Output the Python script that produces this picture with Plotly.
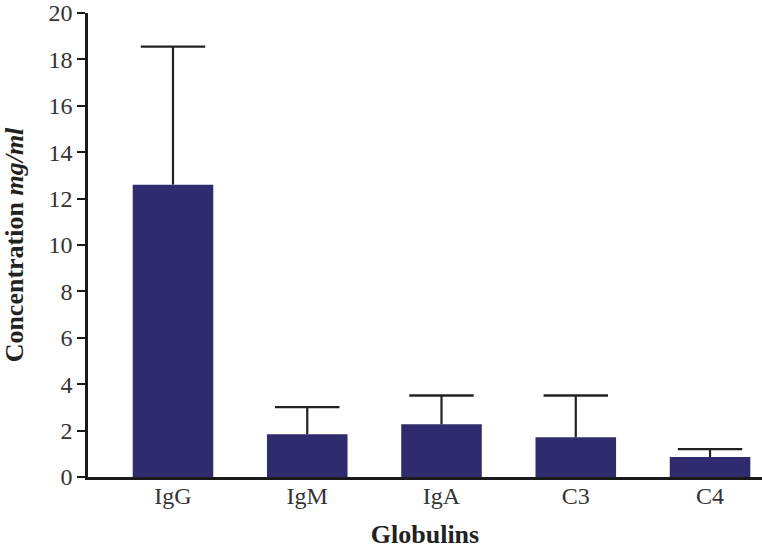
import plotly.graph_objects as go

categories = ["IgG", "IgM", "IgA", "C3", "C4"]
means = [12.6, 1.84, 2.27, 1.71, 0.86]
errors = [5.95, 1.17, 1.24, 1.8, 0.34]
y_ticks = [0, 2, 4, 6, 8, 10, 12, 14, 16, 18, 20]

tops = [m + e for m, e in zip(means, errors)]
stem_x, stem_y = [], []
for c, m, t in zip(categories, means, tops):
    stem_x += [c, c, None]
    stem_y += [m, t, None]

fig = go.Figure()
fig.add_trace(go.Bar(
    x=categories,
    y=means,
    width=0.6,
    marker=dict(color="#302a6e", line=dict(width=0)),
))
# error bar stems (upper only)
fig.add_trace(go.Scatter(
    x=stem_x, y=stem_y, mode="lines",
    line=dict(color="#222222", width=2.2),
    hoverinfo="skip",
))
# error bar caps
fig.add_trace(go.Scatter(
    x=categories, y=tops, mode="markers",
    marker=dict(symbol="line-ew", size=46, line=dict(color="#222222", width=2.4)),
    hoverinfo="skip",
))

fig.update_layout(
    width=762, height=549,
    margin=dict(l=88, r=0, t=13, b=72),
    plot_bgcolor="white", paper_bgcolor="white",
    showlegend=False,
    font=dict(family="Liberation Serif", color="#333333"),
    xaxis=dict(
        range=[-0.633, 4.387],
        automargin=False,
        showline=True, linecolor="#1a1a1a", linewidth=2.5,
        ticks="", ticklen=0, showgrid=False, zeroline=False,
        tickfont=dict(size=24, color="#333333"),
        ticklabelstandoff=-5,
        title=dict(text="<b>Globulins</b>", font=dict(size=26, color="#222222"), standoff=20),
    ),
    yaxis=dict(
        range=[0, 20],
        automargin=False,
        tickvals=y_ticks,
        ticklabeloverflow="allow",
        showline=True, linecolor="#1a1a1a", linewidth=2.5,
        ticks="outside", ticklen=8, tickwidth=2, tickcolor="#1a1a1a",
        showgrid=False, zeroline=False,
        tickfont=dict(size=24, color="#333333"),
        title=dict(text="<b>Concentration <i>mg/ml</i></b>", font=dict(size=26, color="#222222"), standoff=18),
    ),
)

fig.write_html("out.html", config={"displayModeBar": False},
               post_script="document.body.style.margin='0';")
